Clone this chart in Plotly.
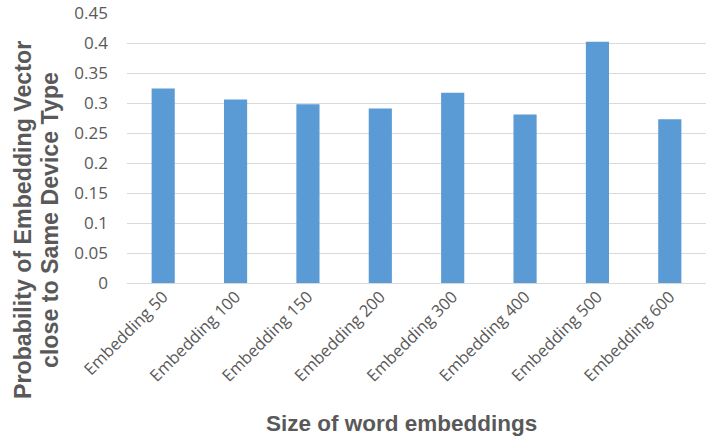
import plotly.graph_objects as go

# Embedding sizes and the probability that a vector lands close to the same device type
categories = ["Embedding 50", "Embedding 100", "Embedding 150", "Embedding 200",
              "Embedding 300", "Embedding 400", "Embedding 500", "Embedding 600"]
probabilities = [0.324, 0.306, 0.298, 0.291, 0.317, 0.281, 0.402, 0.273]
y_ticks = [0, 0.05, 0.1, 0.15, 0.2, 0.25, 0.3, 0.35, 0.4, 0.45]
y_title_lines = ["Probability of Embedding Vector", "close to Same Device Type"]
x_title = "Size of word embeddings"

text_grey = "#595959"
grid_grey = "#D9D9D9"

W, H = 706, 439
M_L, M_R, M_T, M_B = 127, 0, 13, 156
plot_w = W - M_L - M_R
plot_h = H - M_T - M_B


def px_to_paper_x(px):
    return (px - M_L) / plot_w


def px_to_paper_y(py):
    return (H - M_B - py) / plot_h


fig = go.Figure(go.Bar(
    x=categories,
    y=probabilities,
    marker=dict(color="#5B9BD5", line=dict(width=0)),
))

fig.update_layout(
    width=W, height=H,
    margin=dict(l=M_L, r=M_R, t=M_T, b=M_B),
    paper_bgcolor="white",
    plot_bgcolor="white",
    bargap=0.68,
    showlegend=False,
    font=dict(family="Open Sans, sans-serif", color=text_grey),
)

fig.update_xaxes(
    tickangle=-45,
    tickfont=dict(size=16.5, color=text_grey),
    showline=False,
    showgrid=False,
    ticks="",
    automargin=False,
)

fig.update_yaxes(
    range=[0, 0.45],
    tickvals=y_ticks,
    ticktext=[f"{v:g}" for v in y_ticks],
    tickfont=dict(size=17, color=text_grey),
    showgrid=True,
    gridcolor=grid_grey,
    gridwidth=1,
    zeroline=True,
    zerolinecolor=grid_grey,
    zerolinewidth=1,
    showline=False,
    ticks="",
    ticklabelstandoff=18,
    automargin=False,
)

# Two-line rotated y-axis title, set with tight line spacing
for line_text, line_x in zip(y_title_lines, (23, 50)):
    fig.add_annotation(
        text=f"<b>{line_text}</b>",
        xref="paper", yref="paper",
        x=px_to_paper_x(line_x), y=px_to_paper_y(220),
        xanchor="center", yanchor="middle",
        textangle=-90, showarrow=False,
        font=dict(size=23.2, color=text_grey, family="Liberation Sans, Arial"),
    )

fig.add_annotation(
    text=f"<b>{x_title}</b>",
    xref="paper", yref="paper",
    x=px_to_paper_x(401), y=px_to_paper_y(423),
    xanchor="center", yanchor="middle",
    showarrow=False,
    font=dict(size=22.5, color=text_grey, family="Liberation Sans, Arial"),
)

fig.write_html("out.html")
